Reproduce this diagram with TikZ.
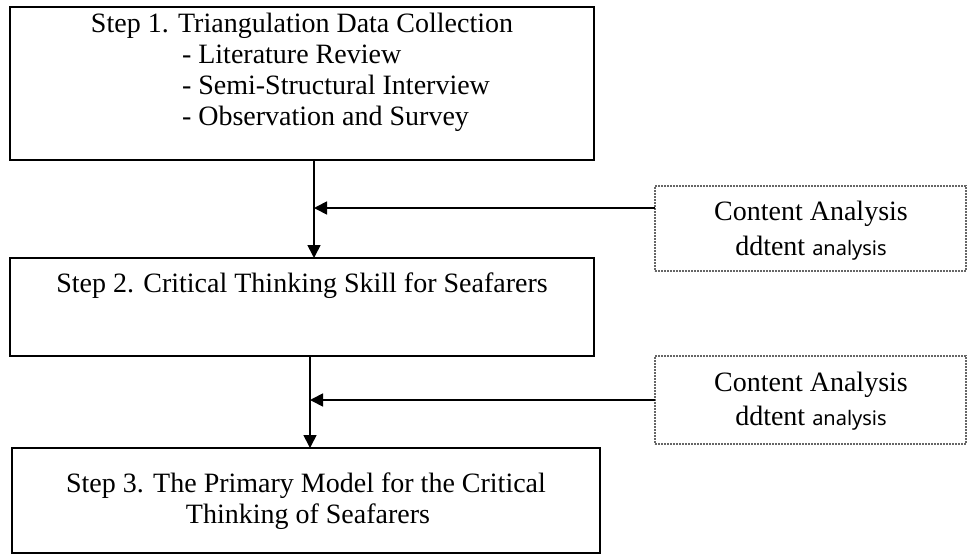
\documentclass[tikz,border=0pt]{standalone}
\usepackage{fontspec}
\setmainfont{Liberation Serif}
\newfontfamily\thsans{Noto Sans}
\usetikzlibrary{arrows.meta,calc}
\begin{document}
\begin{tikzpicture}[x=1pt,y=-1pt,
  box/.style={draw=black, line width=1.7pt, anchor=north west, inner sep=0pt, outer sep=0pt},
  dbox/.style={draw=black!60, line width=1.2pt, dash pattern=on 2pt off 1pt, anchor=north west, inner sep=0pt, outer sep=0pt},
  txt/.style={font=\fontsize{28}{31}\selectfont, inner sep=0pt, outer sep=0pt},
  arr/.style={line width=1.7pt, -{Triangle[length=13pt,width=13pt]}}
]
\useasboundingbox (0,0) rectangle (970,555);
\fill[white] (0,0) rectangle (970,555);

% left boxes
\node[box, minimum width=584pt, minimum height=153pt] (b1) at (10,7) {};
\node[box, minimum width=584pt, minimum height=98pt] (b2) at (10,258) {};
\node[box, minimum width=588pt, minimum height=105pt] (b3) at (12,448) {};

% right boxes
\node[dbox, minimum width=311pt, minimum height=85pt] (r1) at (655,186) {};
\node[dbox, minimum width=311pt, minimum height=88pt] (r2) at (655,356) {};

% texts box 1
\node[txt, anchor=base] (t1) at (302,32) {Step 1. Triangulation Data Collection};
\node[txt, anchor=base west] (t1a) at (182,63) {- Literature Review};
\node[txt, anchor=base west] (t1b) at (182,94) {- Semi-Structural Interview};
\node[txt, anchor=base west] (t1c) at (182,125) {- Observation and Survey};

% text box 2
\node[txt, anchor=base] (t2) at (302,292) {Step 2. Critical Thinking Skill for Seafarers};

% text box 3
\node[txt, anchor=base] (t3a) at (306,492) {Step 3. The Primary Model for the Critical};
\node[txt, anchor=base] (t3b) at (308,523) {Thinking of Seafarers};

% right texts
\node[txt, anchor=base] (r1a) at (811,220) {Content Analysis};
\node[txt, anchor=base] (r1b) at (811,255) {ddtent {\thsans\fontsize{20}{20}\selectfont analysis}};
\node[txt, anchor=base] (r2a) at (811,391) {Content Analysis};
\node[txt, anchor=base] (r2b) at (811,425) {ddtent {\thsans\fontsize{20}{20}\selectfont analysis}};

% connectors
\coordinate (j1) at (314,208);
\coordinate (j2) at (310,400);
\draw[arr] (b1.south -| j1) -- (b2.north -| j1);
\draw[arr] (r1.west |- j1) -- (j1);
\draw[arr] (b2.south -| j2) -- (b3.north -| j2);
\draw[arr] (r2.west |- j2) -- (j2);
\end{tikzpicture}
\end{document}
